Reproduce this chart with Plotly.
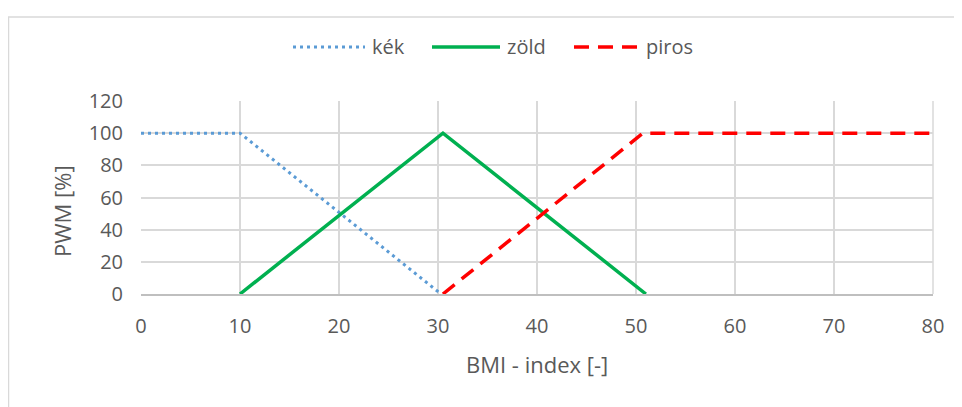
import plotly.graph_objects as go

kek_x = [0, 10, 30.3]
kek_y = [100, 100, 0]
zold_x = [10, 30.5, 51]
zold_y = [0, 100, 0]
piros_x = [30.5, 50.7, 80]
piros_y = [0, 100, 100]
x_ticks = [0, 10, 20, 30, 40, 50, 60, 70, 80]
y_ticks = [0, 20, 40, 60, 80, 100, 120]
series_names = ["kék", "zöld", "piros"]

FONT = "Open Sans"
GRAY = "#595959"
COLORS = ["#5b9bd5", "#00b050", "#ff0000"]
DASHES = ["3px,4px", "solid", "15px,9px"]
WIDTHS = [3, 3.5, 3.5]

fig = go.Figure()
for xs, ys, nm, c, d, w in zip([kek_x, zold_x, piros_x], [kek_y, zold_y, piros_y],
                               series_names, COLORS, DASHES, WIDTHS):
    fig.add_trace(go.Scatter(x=xs, y=ys, mode="lines", name=nm, showlegend=False,
                             line=dict(color=c, width=w, dash=d)))

# page is offset by 8px body margin; work in figure coordinates
W, H = 962, 407
L, R, T, B = 133, 37, 93, 121
pw, ph = W - L - R, H - T - B

def px(x):
    return (x - L) / pw

def py(y):
    return (H - B - y) / ph

shapes = [
    dict(type="rect", xref="paper", yref="paper", x0=px(0.5), x1=px(975), y0=py(420), y1=py(9),
         line=dict(color="#d9d9d9", width=1.5), layer="below"),
    dict(type="line", xref="paper", yref="paper", x0=1, x1=1, y0=0, y1=1,
         line=dict(color="#d9d9d9", width=1.5)),
]
annotations = []
# custom legend (figure px coordinates)
leg_y = 39
leg_items = [(285, 357, 362), (424, 492, 497), (566, 633, 636)]
for (x0, x1, tx), nm, c, d, w in zip(leg_items, series_names, COLORS, DASHES, WIDTHS):
    shapes.append(dict(type="line", xref="paper", yref="paper", x0=px(x0), x1=px(x1),
                       y0=py(leg_y), y1=py(leg_y), line=dict(color=c, width=w, dash=d)))
    annotations.append(dict(text=nm, xref="paper", yref="paper", x=px(tx), y=py(leg_y),
                            xanchor="left", yanchor="middle", showarrow=False,
                            font=dict(size=20, color=GRAY, family=FONT)))

annotations.append(dict(text="BMI - index [-]", xref="paper", yref="paper", x=px(529), y=py(356),
                        xanchor="center", yanchor="middle", showarrow=False,
                        font=dict(size=22, color=GRAY, family=FONT)))
annotations.append(dict(text="PWM [%]", xref="paper", yref="paper", x=px(54), y=py(203),
                        xanchor="center", yanchor="middle", showarrow=False, textangle=-90,
                        font=dict(size=22, color=GRAY, family=FONT)))

fig.update_layout(
    width=W, height=H,
    margin=dict(l=L, r=R, t=T, b=B),
    paper_bgcolor="white", plot_bgcolor="white",
    font=dict(family=FONT, color=GRAY, size=20),
    showlegend=False,
    xaxis=dict(range=[0, 80], tickvals=x_ticks, showgrid=True, gridcolor="#d9d9d9", gridwidth=1.5,
               zeroline=False, showline=True, linecolor="#bfbfbf", linewidth=1.5,
               ticks="", tickfont=dict(size=20, color=GRAY), ticklabelstandoff=13),
    yaxis=dict(range=[0, 120], tickvals=y_ticks, showgrid=True, gridcolor="#d9d9d9", gridwidth=1.5,
               zeroline=False, showline=False, ticks="outside", ticklen=13,
               tickcolor="rgba(0,0,0,0)", tickfont=dict(size=20, color=GRAY)),
    shapes=shapes,
    annotations=annotations,
)

fig.write_html("out.html")
